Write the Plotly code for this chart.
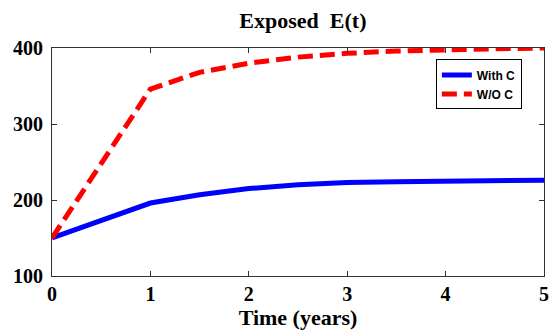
import plotly.graph_objects as go

t = [0, 0.5, 1, 1.5, 2, 2.5, 3, 3.5, 4, 4.5, 5]
with_c = [150, 173, 196, 207, 215, 220, 223, 224, 225, 225, 226]
wo_c = [150, 248, 346, 368, 380, 388, 393, 396, 398, 399, 400]

fig = go.Figure()
fig.add_trace(go.Scatter(x=t, y=with_c, mode="lines", name="With C",
                         line=dict(color="#0000ff", width=5)))
fig.add_trace(go.Scatter(x=t, y=wo_c, mode="lines", name="W/O C",
                         line=dict(color="#ff0000", width=5, dash="15px,7px")))

serif = "Liberation Serif, Times New Roman, serif"
fig.update_layout(
    width=553, height=333,
    margin=dict(l=52, r=4, t=48, b=57),
    paper_bgcolor="white", plot_bgcolor="white",
    title=dict(text="<b>Exposed  E(t)</b>", x=0.51, xanchor="center",
               xref="paper", y=0.94, yanchor="middle",
               font=dict(family=serif, size=22, color="black")),
    showlegend=True,
    legend=dict(x=0.955, y=0.95, xanchor="right", yanchor="top",
                bordercolor="black", borderwidth=1, bgcolor="white",
                font=dict(family="Liberation Sans Narrow, Liberation Sans, Arial, sans-serif", size=12,
                          color="black", weight="bold"),
                tracegroupgap=0, itemwidth=30),
    xaxis=dict(range=[0, 5], tickvals=[0, 1, 2, 3, 4, 5], showgrid=False,
               zeroline=False, showline=True, linecolor="#333", linewidth=1,
               mirror="ticks", ticks="inside", ticklen=5, tickcolor="#333",
               ticklabeloverflow="allow",
               tickfont=dict(family=serif, size=20, color="black", weight="bold"),
               title=dict(text="<b>Time (years)</b>", standoff=0,
                          font=dict(family=serif, size=22, color="black"))),
    yaxis=dict(range=[100, 400], tickvals=[100, 200, 300, 400], showgrid=False,
               zeroline=False, showline=True, linecolor="#333", linewidth=1,
               mirror="ticks", ticks="inside", ticklen=5, tickcolor="#333",
               ticklabelstandoff=4,
               tickfont=dict(family=serif, size=20, color="black", weight="bold")),
)
fig.write_html("out.html", config={"displayModeBar": False},
               post_script="document.body.style.margin='0';document.body.style.overflow='hidden';")
